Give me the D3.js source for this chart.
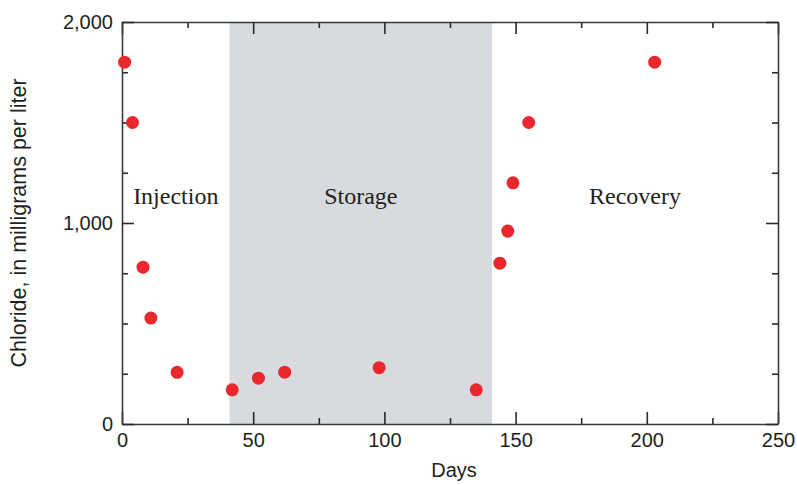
<!DOCTYPE html>
<html>
<head>
<meta charset="utf-8">
<script src="https://cdn.jsdelivr.net/npm/d3@7"></script>
<style>
  html, body { margin: 0; padding: 0; background: #fff; }
  svg { display: block; }
  .tick text { font-family: "Liberation Sans", Arial, Helvetica, sans-serif; font-size: 20px; fill: #231f20; }
  .axis path.domain { stroke: #3a3a3a; stroke-width: 1.6; }
  .axis .tick line { stroke: #2a2a2a; stroke-width: 1.6; }
</style>
</head>
<body>
<svg id="chart" width="797" height="485"></svg>
<script>
// Chloride concentration samples (day, mg/L)
const days     = [1, 4, 8, 11, 21, 42, 52, 62, 98, 135, 144, 147, 149, 155, 203];
const chloride = [1800, 1500, 780, 527, 257, 170, 228, 258, 280, 170, 800, 960, 1200, 1500, 1800];

// Cycle phases (day ranges)
const phaseNames = ["Injection", "Storage", "Recovery"];
const phaseStart = [0, 41, 141];
const phaseEnd   = [41, 141, 250];
const phaseShaded = [false, true, false];

// Axis ticks
const xMajorTicks = [0, 50, 100, 150, 200, 250];
const xMinorTicks = [25, 75, 125, 175, 225];
const yMajorTicks = [0, 1000, 2000];
const yMinorTicks = [250, 500, 750, 1250, 1500, 1750];

const svg = d3.select("#chart");
const margin = { left: 122, right: 19, top: 22, bottom: 61 };
const W = 797, H = 485;
const innerW = W - margin.left - margin.right;
const innerH = H - margin.top - margin.bottom;

const x = d3.scaleLinear().domain([0, 250]).range([margin.left, margin.left + innerW]);
const y = d3.scaleLinear().domain([0, 2000]).range([margin.top + innerH, margin.top]);

// Shaded phase band
svg.append("g").selectAll("rect")
  .data(phaseNames.map((n, i) => ({ n, s: phaseStart[i], e: phaseEnd[i], shaded: phaseShaded[i] })).filter(d => d.shaded))
  .join("rect")
  .attr("x", d => x(d.s))
  .attr("y", y(2000))
  .attr("width", d => x(d.e) - x(d.s))
  .attr("height", y(0) - y(2000))
  .attr("fill", "#d7dade");

// Phase labels, centred in each phase
svg.append("g").selectAll("text")
  .data(phaseNames.map((n, i) => ({ n, mid: (phaseStart[i] + phaseEnd[i]) / 2 })))
  .join("text")
  .attr("x", d => x(d.mid))
  .attr("y", 204)
  .attr("text-anchor", "middle")
  .attr("font-family", "'Liberation Serif', 'Times New Roman', serif")
  .attr("font-size", 24)
  .attr("fill", "#231f20")
  .text(d => d.n);

const fmt = d3.format(",");
const majorLen = 12, minorLen = 6;

function addAxis(axisFn, scale, major, minor, transform, showLabels) {
  const gMinor = svg.append("g").attr("class", "axis").attr("transform", transform)
    .call(axisFn(scale).tickValues(minor).tickSizeInner(-minorLen).tickSizeOuter(0).tickFormat(""));
  gMinor.select(".domain").remove();
  const g = svg.append("g").attr("class", "axis").attr("transform", transform)
    .call(axisFn(scale).tickValues(major).tickSizeInner(-majorLen).tickSizeOuter(0)
      .tickPadding(9)
      .tickFormat(showLabels ? fmt : ""));
  return g;
}

addAxis(d3.axisBottom, x, xMajorTicks, xMinorTicks, `translate(0,${y(0)})`, true);
addAxis(d3.axisTop, x, xMajorTicks, xMinorTicks, `translate(0,${y(2000)})`, false);
addAxis(d3.axisLeft, y, yMajorTicks, yMinorTicks, `translate(${x(0)},0)`, true);
addAxis(d3.axisRight, y, yMajorTicks, yMinorTicks, `translate(${x(250)},0)`, false);

// Data points
svg.append("g").selectAll("circle")
  .data(days.map((d, i) => ({ d, c: chloride[i] })))
  .join("circle")
  .attr("cx", p => x(p.d))
  .attr("cy", p => y(p.c))
  .attr("r", 6.5)
  .attr("fill", "#e8282c");

// Axis titles
svg.append("text")
  .attr("x", x(125) + 4)
  .attr("y", 477)
  .attr("text-anchor", "middle")
  .attr("font-family", "'Liberation Sans', Arial, Helvetica, sans-serif")
  .attr("font-size", 20)
  .attr("fill", "#231f20")
  .text("Days");

svg.append("text")
  .attr("transform", `translate(26,${(y(0) + y(2000)) / 2}) rotate(-90)`)
  .attr("text-anchor", "middle")
  .attr("font-family", "'Liberation Sans', Arial, Helvetica, sans-serif")
  .attr("font-size", 21.5)
  .attr("fill", "#231f20")
  .text("Chloride, in milligrams per liter");
</script>
</body>
</html>
